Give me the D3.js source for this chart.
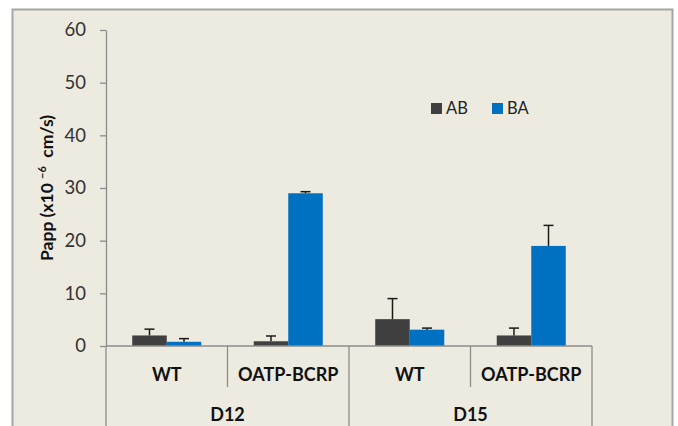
<!DOCTYPE html>
<html>
<head>
<meta charset="utf-8">
<script src="https://cdn.jsdelivr.net/npm/d3@7"></script>
<style>
  body { margin: 0; background: #ffffff; }
  svg { display: block; font-family: Lato, "Open Sans", sans-serif; }
</style>
</head>
<body>
<svg id="chart" width="678" height="426"></svg>
<script>
// Papp permeability, AB vs BA, per cell line and day
const groups = ['D12', 'D15'];
const strains = ['WT', 'OATP-BCRP'];
const series = ['AB', 'BA'];
const abValues = [2.0, 0.9, 5.1, 2.0];
const abErrors = [1.2, 1.0, 3.9, 1.4];
const baValues = [0.8, 29.0, 3.1, 19.0];
const baErrors = [0.6, 0.3, 0.3, 3.9];
const yTicks = [0, 10, 20, 30, 40, 50, 60];
const seriesColours = ['#404040', '#0070c0'];

const svg = d3.select('#chart');

// plot frame
const plot = {left: 106, right: 592, top: 30, bottom: 346};

svg.append('rect')
    .attr('x', 12.5).attr('y', 9.5)
    .attr('width', 660).attr('height', 440)
    .attr('fill', '#edeae0')
    .attr('stroke', '#a6a6a6')
    .attr('stroke-width', 2);

// one row per category (day x strain)
const cats = [];
groups.forEach(g => strains.forEach(s => cats.push({group: g, strain: s, key: g + '|' + s})));
cats.forEach((c, i) => {
    c.values = [abValues[i], baValues[i]];
    c.errors = [abErrors[i], baErrors[i]];
});

const x = d3.scaleBand()
    .domain(cats.map(d => d.key))
    .range([plot.left, plot.right])
    .padding(0);

const xInner = d3.scaleBand()
    .domain(series)
    .range([0, x.bandwidth()])
    .paddingInner(0)
    .paddingOuter(0.76);

const y = d3.scaleLinear()
    .domain([0, 60])
    .range([plot.bottom, plot.top]);

// y axis
const yAxis = d3.axisLeft(y)
    .tickValues(yTicks)
    .tickSize(6)
    .tickSizeOuter(0)
    .tickPadding(14);

const yG = svg.append('g')
    .attr('transform', `translate(${plot.left},0)`)
    .call(yAxis);
yG.select('.domain').attr('stroke', '#8c8c8c').attr('stroke-width', 1.3);
yG.selectAll('.tick line').attr('stroke', '#8c8c8c').attr('stroke-width', 1.3);
yG.selectAll('.tick text')
    .attr('font-size', 18.5)
    .attr('fill', '#333')
    .attr('font-family', 'Lato, sans-serif');

// y axis title
const yTitle = svg.append('text')
    .attr('transform', `translate(53,${(plot.top + plot.bottom) / 2}) rotate(-90)`)
    .attr('text-anchor', 'middle')
    .attr('font-size', 17.5)
    .attr('font-weight', 'bold')
    .attr('fill', '#111')
    .attr('xml:space', 'preserve');
yTitle.append('tspan').text('Papp (x10 ');
yTitle.append('tspan').attr('font-size', 11).attr('dy', -7).text('\u22126');
yTitle.append('tspan').attr('dy', 7).text('  cm/s)');

// bars
const catG = svg.selectAll('g.cat').data(cats).join('g')
    .attr('class', 'cat')
    .attr('transform', d => `translate(${x(d.key)},0)`);

const barData = d => series.map((s, i) => ({series: s, i, value: d.values[i], err: d.errors[i]}));

catG.selectAll('rect.bar').data(barData).join('rect')
    .attr('class', 'bar')
    .attr('x', d => xInner(d.series))
    .attr('width', xInner.bandwidth())
    .attr('y', d => y(d.value))
    .attr('height', d => y(0) - y(d.value))
    .attr('fill', d => seriesColours[d.i]);

// error bars (upper only)
const errG = catG.selectAll('g.err').data(barData).join('g')
    .attr('class', 'err')
    .attr('transform', d => `translate(${xInner(d.series) + xInner.bandwidth() / 2},0)`);
errG.append('line')
    .attr('y1', d => y(d.value)).attr('y2', d => y(d.value + d.err))
    .attr('stroke', '#1a1a1a').attr('stroke-width', 1.5);
errG.append('line')
    .attr('x1', -5).attr('x2', 5)
    .attr('y1', d => y(d.value + d.err)).attr('y2', d => y(d.value + d.err))
    .attr('stroke', '#1a1a1a').attr('stroke-width', 1.5);

// x axis baseline and category separators
const axisStroke = '#8c8c8c';
svg.append('line')
    .attr('x1', plot.left).attr('x2', plot.right)
    .attr('y1', y(0)).attr('y2', y(0))
    .attr('stroke', axisStroke).attr('stroke-width', 1.3);

const boundaries = cats.map(d => x(d.key)).concat([plot.right]);
svg.selectAll('line.sep').data(boundaries).join('line')
    .attr('class', 'sep')
    .attr('x1', d => d).attr('x2', d => d)
    .attr('y1', y(0))
    .attr('y2', (d, i) => i % strains.length === 0 ? 430 : 387)
    .attr('stroke', axisStroke).attr('stroke-width', 1.3);

// strain labels
svg.selectAll('text.strain').data(cats).join('text')
    .attr('class', 'strain')
    .attr('x', d => x(d.key) + x.bandwidth() / 2)
    .attr('y', 381)
    .attr('text-anchor', 'middle')
    .attr('font-size', 18)
    .attr('font-weight', 'bold')
    .attr('fill', '#111')
    .text(d => d.strain);

// day labels
svg.selectAll('text.group').data(groups).join('text')
    .attr('class', 'group')
    .attr('x', g => x(g + '|' + strains[0]) + x.bandwidth() * strains.length / 2)
    .attr('y', 421)
    .attr('text-anchor', 'middle')
    .attr('font-size', 18)
    .attr('font-weight', 'bold')
    .attr('fill', '#111')
    .text(d => d);

// legend
const legend = svg.selectAll('g.legend').data(series).join('g')
    .attr('class', 'legend')
    .attr('transform', (d, i) => `translate(${431 + i * 61},103)`);
legend.append('rect')
    .attr('width', 11).attr('height', 11)
    .attr('fill', (d, i) => seriesColours[i]);
legend.append('text')
    .attr('x', 15).attr('y', 10.5)
    .attr('font-size', 16.5)
    .attr('fill', '#222')
    .text(d => d);
</script>
</body>
</html>
